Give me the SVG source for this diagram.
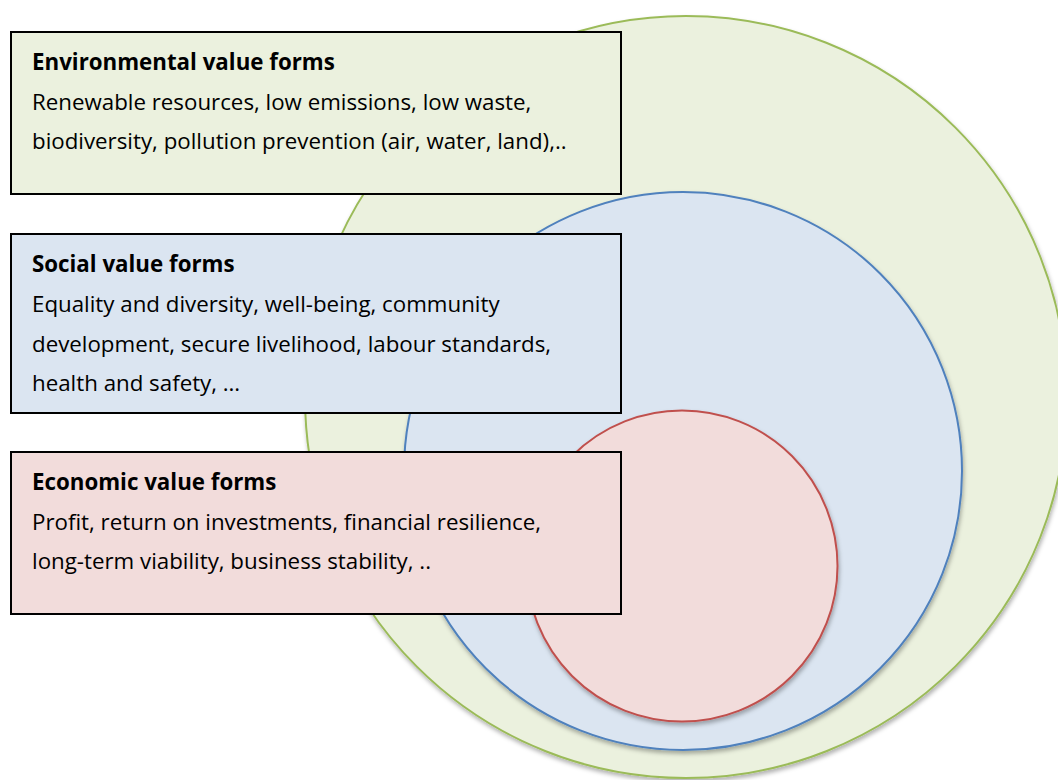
<svg xmlns="http://www.w3.org/2000/svg" width="1058" height="780" viewBox="0 0 1058 780">
<style>
.box{stroke:#000;stroke-width:2}
.t{font-family:"Open Sans","Noto Sans","Liberation Sans",sans-serif;font-size:22.3px;fill:#000}
.h{font-weight:bold}
</style>
<defs>
<filter id="sh" x="-10%" y="-10%" width="120%" height="120%">
<feDropShadow dx="1" dy="3" stdDeviation="2" flood-color="#000" flood-opacity="0.3"/>
</filter>
</defs>
<rect width="1058" height="780" fill="#fff"/>
<g id="circle-env"><circle cx="686" cy="397" r="381" fill="#EBF1DE" stroke="#9BBB59" stroke-width="2" filter="url(#sh)"/></g>
<g id="circle-soc"><circle cx="683" cy="471" r="279" fill="#DBE5F1" stroke="#4F81BD" stroke-width="2" filter="url(#sh)"/></g>
<g id="circle-eco"><circle cx="682" cy="566" r="155.5" fill="#F2DCDB" stroke="#C0504D" stroke-width="2" filter="url(#sh)"/></g>
<g id="connectors"></g>
<g id="box-env">
<rect class="box" x="11" y="32" width="610" height="162" fill="#EBF1DE"/>
<text class="t h" x="32" y="70">Environmental value forms</text>
<text class="t" x="32" y="110">Renewable resources, low emissions, low waste,</text>
<text class="t" x="32" y="149">biodiversity, pollution prevention (air, water, land),..</text>
</g>
<g id="box-soc">
<rect class="box" x="11" y="234" width="610" height="179" fill="#DBE5F1"/>
<text class="t h" x="32" y="272">Social value forms</text>
<text class="t" x="32" y="312">Equality and diversity, well-being, community</text>
<text class="t" x="32" y="352">development, secure livelihood, labour standards,</text>
<text class="t" x="32" y="391">health and safety, …</text>
</g>
<g id="box-eco">
<rect class="box" x="11" y="452" width="610" height="162" fill="#F2DCDB"/>
<text class="t h" x="32" y="490">Economic value forms</text>
<text class="t" x="32" y="530">Profit, return on investments, financial resilience,</text>
<text class="t" x="32" y="569">long-term viability, business stability, ..</text>
</g>
</svg>
